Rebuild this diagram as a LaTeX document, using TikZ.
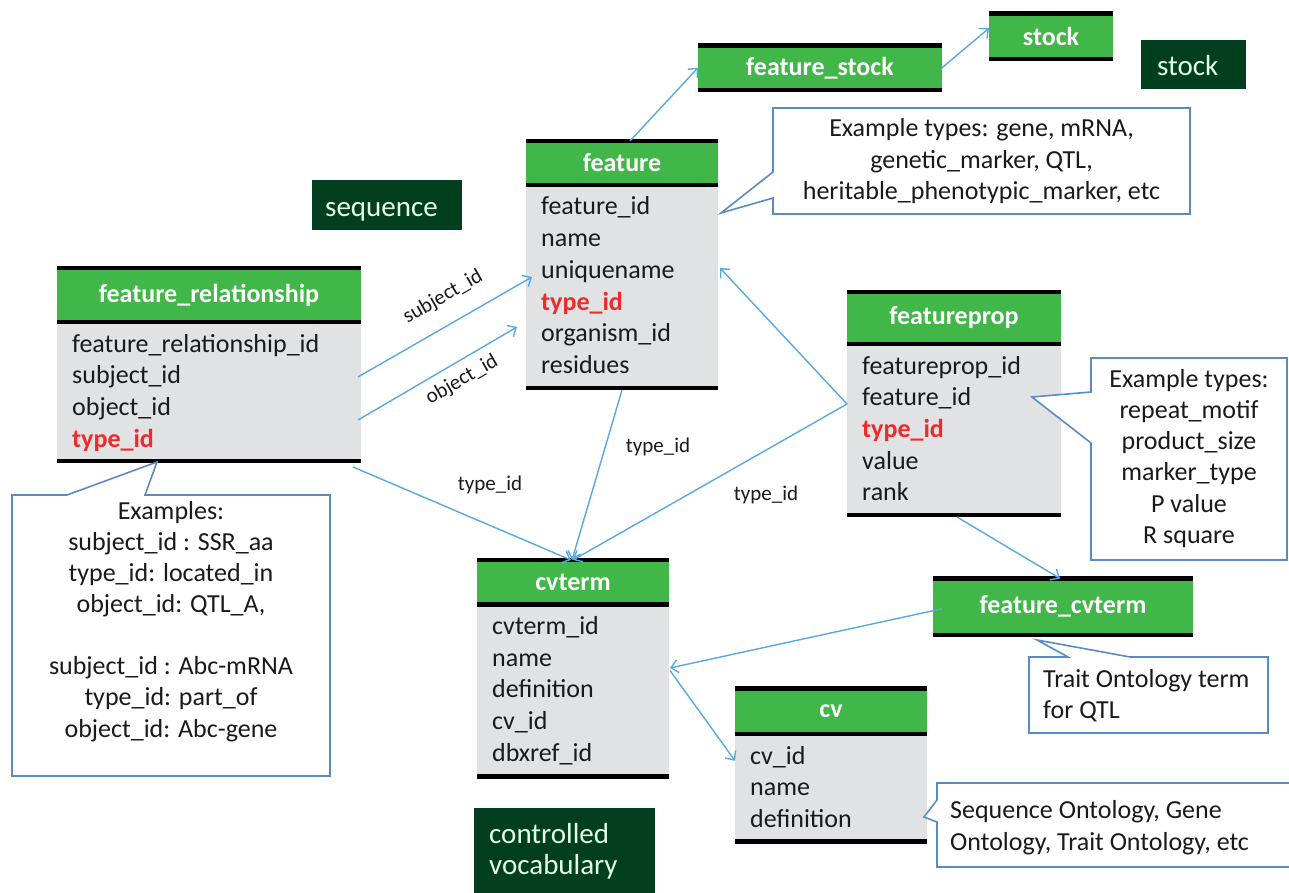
\documentclass[tikz,border=0pt]{standalone}
\usepackage{fontspec}
\setmainfont{Carlito}
\usetikzlibrary{arrows.meta}
\definecolor{hdrgreen}{HTML}{41B649}
\definecolor{bodygray}{HTML}{E1E2E4}
\definecolor{darkgreen}{HTML}{023F1F}
\definecolor{linkblue}{HTML}{58A9E0}
\definecolor{callblue}{HTML}{5A8BC4}
\definecolor{fieldred}{HTML}{EE2A2A}
\definecolor{txtc}{HTML}{1A1A1A}
\newcommand{\redf}[1]{\textcolor{fieldred}{\bfseries #1}}
\tikzset{
 hdr/.style={fill=hdrgreen, draw=none, inner sep=0pt, outer sep=0pt, text=white, font=\fontsize{26}{31}\selectfont\bfseries},
 bodyfill/.style={fill=bodygray, draw=none, inner sep=0pt, outer sep=0pt},
 bar/.style={line width=4.5pt, draw=black},
 rowtxt/.style={anchor=base west, inner sep=0pt, text=txtc, font=\fontsize{26}{31}\selectfont},
 link/.style={draw=linkblue, line width=1.4pt, -{Straight Barb[length=7pt, width=13pt, line width=1.4pt]}},
 linklbl/.style={text=txtc, font=\fontsize{21}{25}\selectfont, inner sep=0pt},
 callout/.style={draw=callblue, line width=1.6pt, fill=white, line join=miter},
 calltxt/.style={text=txtc, font=\fontsize{26}{31}\selectfont, inner sep=0pt},
 darkbox/.style={fill=darkgreen, draw=none, inner sep=0pt, outer sep=0pt},
 darktxt/.style={text=white!90!green, font=\fontsize{29}{35}\selectfont, inner sep=0pt, anchor=base west},
}
% name, x1, x2, ytop, ymid, ybot, title, rows
\newcommand{\dbtab}[8]{%
  \node[hdr, minimum width={(#3-#2)*1pt}, minimum height={(#5-#4)*1pt}] (#1-h) at ({(#2+#3)/2},{(#4+#5)/2}) {#7};
  \node[bodyfill, minimum width={(#3-#2)*1pt}, minimum height={(#6-#5)*1pt}] (#1-b) at ({(#2+#3)/2},{(#5+#6)/2}) {};
  \draw[bar] (#1-h.north west) -- (#1-h.north east);
  \draw[bar] (#1-b.north west) -- (#1-b.north east);
  \draw[bar] (#1-b.south west) -- (#1-b.south east);
  \foreach \r [count=\i] in {#8} \node[rowtxt] (#1-r\i) at ({#2+15},{#5+30+31.7*(\i-1)}) {\r};
}
% name, x1, x2, ytop, ybot, title
\newcommand{\dbhead}[6]{%
  \node[hdr, minimum width={(#3-#2)*1pt}, minimum height={(#5-#4)*1pt}] (#1-h) at ({(#2+#3)/2},{(#4+#5)/2}) {#6};
  \draw[bar] (#1-h.north west) -- (#1-h.north east);
  \draw[bar] (#1-h.south west) -- (#1-h.south east);
}
\begin{document}
\begin{tikzpicture}[x=1pt, y=-1pt]
\useasboundingbox (0,0) rectangle (1289,893);
\fill[white] (0,0) rectangle (1289,893);

% dark label boxes
\node[darkbox, minimum width=150pt, minimum height=50pt] (seqbox) at (387,205.5) {};
\node[darktxt] (seqtxt) at (325,217) {sequence};
\node[darkbox, minimum width=105pt, minimum height=49pt] (stockbox) at (1193.5,64.5) {};
\node[darktxt] (stocktxt) at (1157,76) {stock};
\node[darkbox, minimum width=181pt, minimum height=95pt] (cvbox) at (564.5,855.5) {};
\node[darktxt] (cvtxt1) at (489,843) {controlled};
\node[darktxt] (cvtxt2) at (489,874) {vocabulary};

% tables
\dbtab{fr}{57}{361}{268}{322}{461}{feature\_relationship}{feature\_relationship\_id, subject\_id, object\_id, {\redf{type\_id}}}
\dbtab{feat}{526}{718}{141}{185}{388}{feature}{feature\_id, name, uniquename, {\redf{type\_id}}, organism\_id, residues}
\dbtab{fp}{847}{1061}{292}{344}{515}{featureprop}{featureprop\_id, feature\_id, {\redf{type\_id}}, value, rank}
\dbtab{cvt}{477}{669}{560}{604.5}{776.5}{cvterm}{cvterm\_id, name, definition, cv\_id, dbxref\_id}
\dbtab{cv}{735}{927}{688.5}{734}{841.5}{cv}{cv\_id, name, definition}
\dbhead{fs}{698}{942}{45.5}{90}{feature\_stock}
\dbhead{st}{989}{1113}{13.5}{59}{stock}
\dbhead{fcv}{933}{1193}{578.5}{635}{feature\_cvterm}

% connectors
\draw[link] ([xshift=8pt]feat-h.north) -- (fs-h.west);
\draw[link] (fs-h.east) -- ([yshift=8pt]st-h.west);
\draw[link] ([xshift=-3pt,yshift=14.5pt]fr-b.east) -- ([xshift=6pt,yshift=9.5pt]feat-b.west);
\draw[link] ([xshift=-3pt,yshift=-28.5pt]fr-b.east) -- ([xshift=-9pt,yshift=-40.5pt]feat-b.west);
\draw[link] ([xshift=-8pt,yshift=-6pt]fr-b.south east) -- ([xshift=-2pt]cvt-h.north);
\draw[link] ([yshift=-2pt]feat-b.south) -- ([xshift=-1pt]cvt-h.north);
\draw[link] ([yshift=25.5pt]fp-b.west) -- ([xshift=2pt,yshift=18.5pt]feat-b.east);
\draw[link] ([yshift=25.5pt]fp-b.west) -- (cvt-h.north);
\draw[link] ([xshift=3pt,yshift=-2pt]fp-b.south) -- ([xshift=-3pt]fcv-h.north);
\draw[link] ([xshift=9pt,yshift=-2pt]fcv-h.west) -- ([xshift=1pt,yshift=22.5pt]cvt-b.east);
\draw[link] ([xshift=1pt,yshift=20pt]cvt-b.east) -- ([yshift=27pt]cv-b.west);

% connector labels
\node[linklbl, rotate=30] (lsub) at (443,297) {subject\_id};
\node[linklbl, rotate=30] (lobj) at (462,380) {object\_id};
\node[linklbl, anchor=base] (lt1) at (490,490) {type\_id};
\node[linklbl, anchor=base] (lt2) at (658,452) {type\_id};
\node[linklbl, anchor=base] (lt3) at (766,500) {type\_id};

% callouts
\draw[callout] (773,108) -- (1190,108) -- (1190,214) -- (773,214) -- (773,198) -- (721,213) -- (773,172) -- cycle;
\foreach \t [count=\i] in {{Example types: gene, mRNA,}, {genetic\_marker, QTL,}, {heritable\_phenotypic\_marker, etc}}
  \node[calltxt, anchor=base] (c1-\i) at ({981.5},{137+31.5*(\i-1)}) {\t};

\draw[callout] (1091,358) -- (1287,358) -- (1287,560) -- (1091,560) -- (1091,443) -- (1032,397) -- (1091,392) -- cycle;
\foreach \t [count=\i] in {{Example types:}, repeat\_motif, product\_size, marker\_type, P value, R square}
  \node[calltxt, anchor=base] (c2-\i) at ({1189},{387+31.3*(\i-1)}) {\t};

\draw[callout] (12,495) -- (67,495) -- (157,462) -- (145,495) -- (330,495) -- (330,776) -- (12,776) -- cycle;
\foreach \t [count=\i] in {{Examples:}, {subject\_id : SSR\_aa}, {type\_id: located\_in}, {object\_id: QTL\_A,}}
  \node[calltxt, anchor=base] (c3a-\i) at ({171},{519+31*(\i-1)}) {\t};
\foreach \t [count=\i] in {{subject\_id : Abc-mRNA}, {type\_id: part\_of}, {object\_id: Abc-gene}}
  \node[calltxt, anchor=base] (c3b-\i) at ({171},{674+31.5*(\i-1)}) {\t};

\draw[callout] (1029,657) -- (1068,657) -- (1037,640) -- (1130,657) -- (1268,657) -- (1268,733) -- (1029,733) -- cycle;
\node[calltxt, anchor=base west] (c4-1) at (1043,687) {Trait Ontology term};
\node[calltxt, anchor=base west] (c4-2) at (1043,718) {for QTL};

\draw[callout] (1295,783) -- (937,783) -- (937,800) -- (924,817) -- (937,822) -- (937,867) -- (1295,867);
\node[calltxt, anchor=base west] (c5-1) at (950,818) {Sequence Ontology, Gene};
\node[calltxt, anchor=base west] (c5-2) at (950,850) {Ontology, Trait Ontology, etc};
\end{tikzpicture}
\end{document}
